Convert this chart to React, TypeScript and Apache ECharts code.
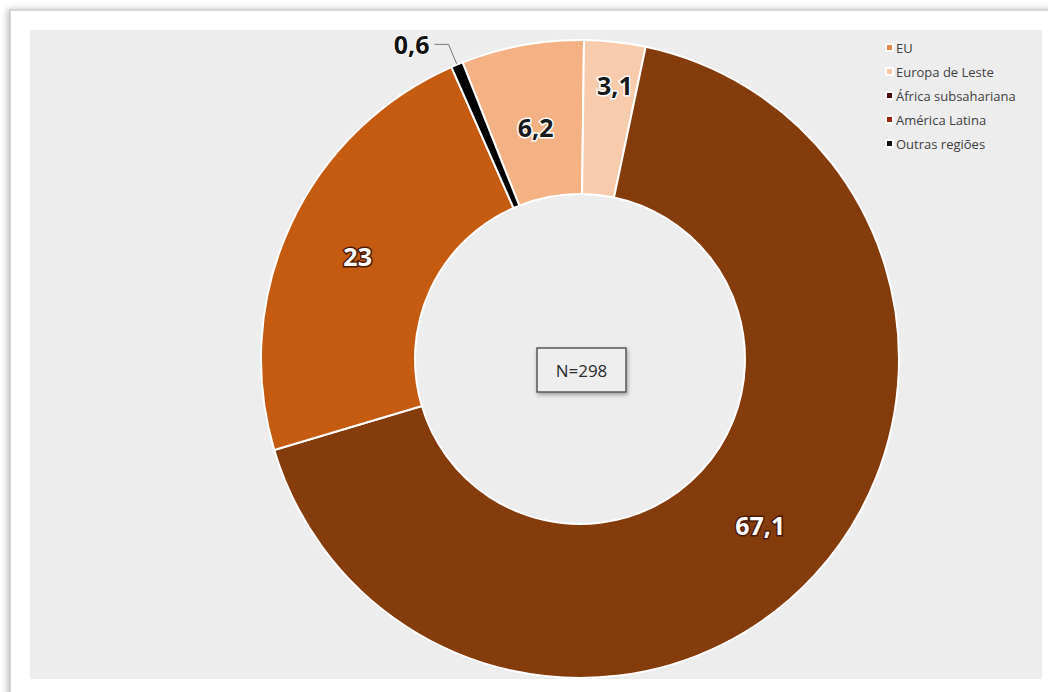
import React, { useEffect, useRef } from "react";
import * as echarts from "echarts";

const categories = ["EU", "Europa de Leste", "África subsahariana", "América Latina", "Outras regiões"];
const values = [6.2, 3.1, 67.1, 23, 0.6];
const labels = ["6,2", "3,1", "67,1", "23", "0,6"];
const sliceColors = ["#F4B183", "#F8CBAD", "#843C0C", "#C55A11", "#000000"];
const legendColors = ["#E3894D", "#F6C6A6", "#4B0F0E", "#9A2810", "#111111"];
const centerNote = "N=298";

export default function App() {
  const ref = useRef<HTMLDivElement>(null);
  useEffect(() => {
    if (!ref.current) return;
    const chart = echarts.init(ref.current, null, { renderer: "svg" });
    const font = "'Open Sans', 'Noto Sans', sans-serif";
    const darkLabel = {
      color: "#1a1a1a",
      textBorderColor: "#ffffff",
      textBorderWidth: 3,
    };
    const lightLabel = {
      color: "#ffffff",
      textBorderColor: "#4a1a05",
      textBorderWidth: 3,
    };
    const data = categories.map((name, i) => {
      const item: any = {
        name,
        value: values[i],
        itemStyle: { color: sliceColors[i] },
        label: {},
      };
      if (i === 0) item.label = { ...darkLabel, offset: [0, 9] };
      if (i === 1) item.label = { ...darkLabel, offset: [8, -30] };
      if (i === 2 || i === 3) item.label = { ...lightLabel };
      if (i === 4) {
        item.label = {
          position: "outside",
          color: "#111",
          textBorderColor: "#ffffff",
          textBorderWidth: 2,
        };
        item.labelLine = {
          show: true,
          length: 22,
          length2: 14,
          lineStyle: { color: "#777", width: 1 },
        };
      }
      return item;
    });
    chart.setOption({
      animation: false,
      backgroundColor: "#ffffff",
      graphic: [
        {
          type: "rect",
          z: -10,
          silent: true,
          shape: { x: 10, y: 10, width: 1050, height: 690 },
          style: {
            fill: "#ffffff",
            stroke: "#c9c9c9",
            lineWidth: 1.5,
            shadowColor: "rgba(0,0,0,0.25)",
            shadowBlur: 6,
            shadowOffsetX: -2,
          },
        },
        {
          type: "rect",
          z: -9,
          silent: true,
          shape: { x: 30, y: 30, width: 1012, height: 649 },
          style: { fill: "#EDEDED" },
        },
        {
          type: "rect",
          z: 10,
          silent: true,
          shape: { x: 537, y: 348, width: 89, height: 44 },
          style: {
            fill: "#EEEEEE",
            stroke: "#5a5a5a",
            lineWidth: 1.5,
            shadowColor: "rgba(0,0,0,0.35)",
            shadowBlur: 4,
            shadowOffsetX: 1,
            shadowOffsetY: 2,
          },
        },
        {
          type: "text",
          z: 11,
          silent: true,
          x: 581.5,
          y: 370,
          style: {
            text: centerNote,
            fill: "#2b2b2b",
            font: "17px " + font,
            align: "center",
            verticalAlign: "middle",
          },
        },
      ],
      legend: {
        orient: "vertical",
        left: 880,
        top: 36,
        icon: "rect",
        itemWidth: 7,
        itemHeight: 7,
        itemGap: 11,
        textStyle: { fontSize: 13, color: "#404040", fontFamily: font, padding: [0, 0, 0, -2] },
        selectedMode: false,
        data: categories.map((name, i) => ({ name, itemStyle: { color: legendColors[i] } })),
      },
      series: [
        {
          type: "pie",
          center: [580, 359],
          radius: [165, 319],
          startAngle: 111.6,
          clockwise: true,
          avoidLabelOverlap: false,
          itemStyle: { borderColor: "#ffffff", borderWidth: 2 },
          label: {
            show: true,
            position: "inside",
            fontSize: 25,
            fontWeight: "bold",
            fontFamily: font,
            formatter: (p: any) => labels[p.dataIndex],
          },
          labelLine: { show: false },
          emphasis: { disabled: true },
          data,
        },
      ],
    });
    return () => chart.dispose();
  }, []);
  return (
    <div
      ref={ref}
      style={{ position: "fixed", left: 0, top: 0, width: 1048, height: 692 }}
    />
  );
}
